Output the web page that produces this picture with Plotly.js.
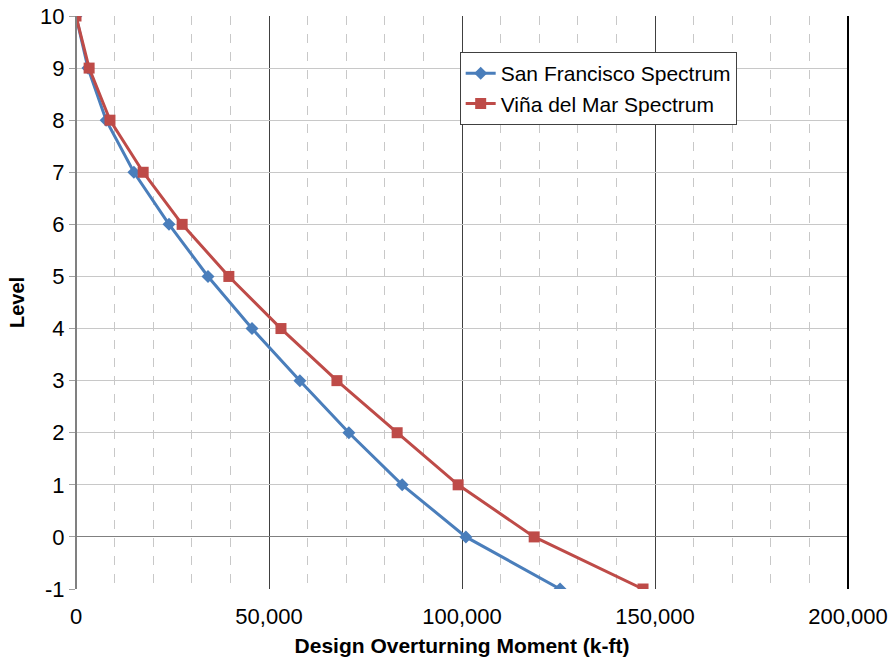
<!DOCTYPE html>
<html>
<head>
<meta charset="utf-8">
<script src="https://cdn.plot.ly/plotly-3.0.1.min.js"></script>
<style>html,body{margin:0;padding:0;background:#fff;}#chart{width:890px;height:658px;}</style>
</head>
<body>
<div id="chart"></div>
<script>
const levels = [10, 9, 8, 7, 6, 5, 4, 3, 2, 1, 0, -1];
const sanFrancisco = [0, 3100, 7800, 15000, 24100, 34200, 45600, 58000, 70700, 84500, 101000, 125400];
const vinaDelMar = [0, 3400, 8800, 17400, 27500, 39600, 53100, 67600, 83200, 99000, 118700, 146900];
const seriesNames = ["San Francisco Spectrum", "Viña del Mar Spectrum"];
const xTickVals = [0, 50000, 100000, 150000, 200000];
const xTickText = ["0", "50,000", "100,000", "150,000", "200,000"];
const yTickVals = [-1, 0, 1, 2, 3, 4, 5, 6, 7, 8, 9, 10];
const yTickText = ["-1", "0", "1", "2", "3", "4", "5", "6", "7", "8", "9", "10"];

const font = "Liberation Sans, Arial, sans-serif";
const traces = [
  {x: sanFrancisco, y: levels, name: seriesNames[0], type: "scatter", mode: "lines+markers",
   line: {color: "#4a7ebb", width: 3}, marker: {symbol: "diamond", size: 10, color: "#4a7ebb"}},
  {x: vinaDelMar, y: levels, name: seriesNames[1], type: "scatter", mode: "lines+markers",
   line: {color: "#be4b48", width: 3}, marker: {symbol: "square", size: 11, color: "#be4b48"}}
];
const layout = {
  width: 890, height: 658,
  margin: {l: 76, r: 42, t: 16, b: 69},
  paper_bgcolor: "#fff", plot_bgcolor: "#fff",
  font: {family: font, size: 22, color: "#000"},
  showlegend: true,
  legend: {x: 0.497, y: 0.937, xanchor: "left", yanchor: "top", bgcolor: "#fff",
    bordercolor: "#404040", borderwidth: 1, font: {family: font, size: 21, color: "#000"},
    itemwidth: 30},
  xaxis: {
    range: [0, 200000], tickvals: xTickVals, ticktext: xTickText,
    showgrid: true, gridcolor: "#404040", gridwidth: 1,
    minor: {dtick: 10000, showgrid: true, gridcolor: "#c8c8c8", griddash: "dash", gridwidth: 1},
    zeroline: true, zerolinecolor: "#808080", zerolinewidth: 2,
    showline: false, ticks: "", ticklabelstandoff: 12,
    title: {text: "Design Overturning Moment (k-ft)", font: {family: font, size: 21, color: "#000", weight: "bold"}, standoff: 10},
    fixedrange: true
  },
  yaxis: {
    range: [-1, 10], tickvals: yTickVals, ticktext: yTickText,
    showgrid: true, gridcolor: "#c8c8c8", gridwidth: 1,
    zeroline: true, zerolinecolor: "#808080", zerolinewidth: 1,
    showline: false, ticks: "outside", ticklen: 6, tickcolor: "#a0a0a0",
    title: {text: "Level", font: {family: font, size: 20, color: "#000", weight: "bold"}, standoff: 10},
    fixedrange: true
  },
  shapes: [
    {type: "line", xref: "paper", yref: "paper", x0: 1, x1: 1, y0: 0, y1: 1, line: {color: "#000", width: 2}},
    {type: "line", xref: "paper", yref: "paper", x0: 0, x1: 0, y0: 0, y1: 1, line: {color: "#808080", width: 2}}
  ]
};
Plotly.newPlot("chart", traces, layout, {displayModeBar: false, staticPlot: true});
</script>
</body>
</html>
